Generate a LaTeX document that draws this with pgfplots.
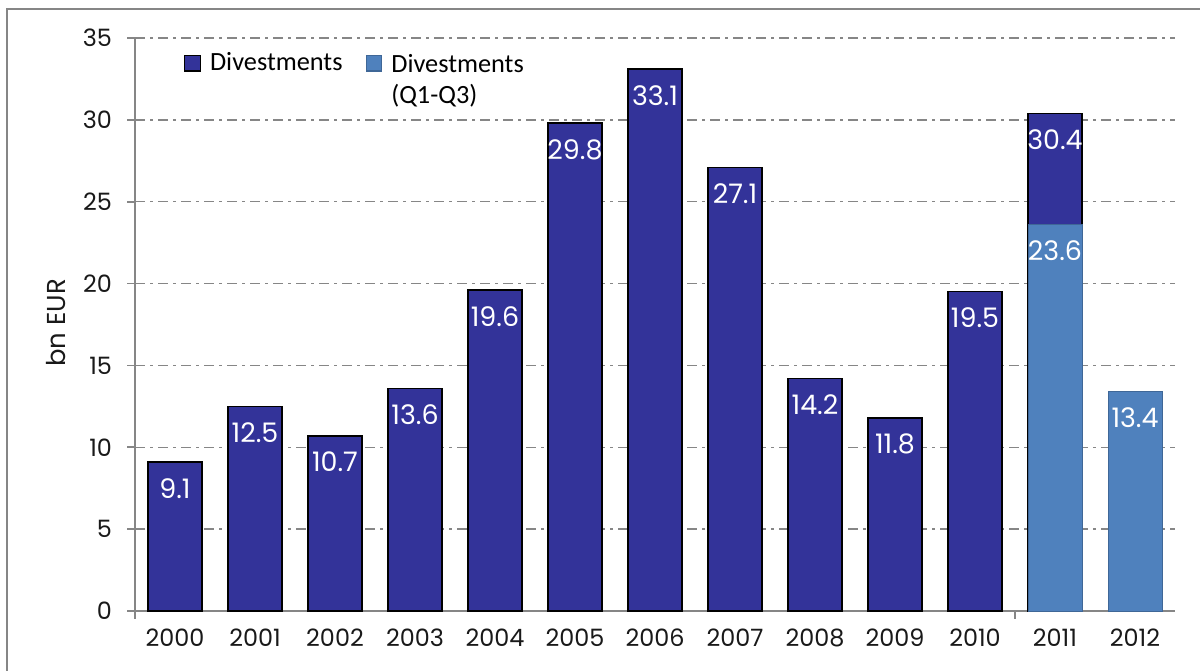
\documentclass[border=0pt]{standalone}
\usepackage{pgfplots}
\pgfplotsset{compat=1.18}
\usepackage{fontspec}
\setmainfont{Poppins}
\newfontfamily\calfont{Carlito}
\definecolor{darkbar}{RGB}{51,51,153}
\definecolor{lightbar}{RGB}{79,129,189}
\definecolor{gridc}{RGB}{134,134,134}
\begin{document}
\begin{tikzpicture}
\useasboundingbox (0bp,0bp) rectangle (600bp,335.5bp);
\draw[gridc, line width=0.9bp] (3.5bp,-20bp) -- (3.5bp,331bp) -- (620bp,331bp);
\begin{axis}[
  at={(67.5bp,30bp)}, anchor=south west,
  scale only axis, width=520bp, height=286.5bp,
  xmin=-0.5, xmax=12.5, ymin=0, ymax=35,
  axis x line*=bottom, axis y line*=left,
  axis line style={gridc, line width=0.9bp},
  xtick={0,...,12},
  xticklabels={2000,2001,2002,2003,2004,2005,2006,2007,2008,2009,2010,2011,2012},
  ytick={0,5,...,35},
  xtick style={draw=none},
  ytick style={gridc, line width=0.9bp},
  tick align=outside, major tick length=4bp,
  ymajorgrids,
  grid style={gridc, line width=0.7bp, dash pattern=on 5bp off 2.5bp on 1.5bp off 2.5bp},
  /pgf/number format/assume math mode=true,
  ticklabel style={font=\fontsize{12}{14}\selectfont, text=black!90},
  yticklabel style={xshift=-4bp},
  xticklabel style={yshift=-1.5bp},
  clip=false,
  ybar, bar width=27bp, bar shift=0pt,
  nodes near coords={\pgfmathprintnumber[fixed,fixed zerofill,precision=1]{\pgfplotspointmeta}},
  nodes near coords style={white, anchor=north, yshift=-4.5bp, font=\fontsize{13.5}{15}\selectfont},
  legend columns=2,
  legend style={at={(axis description cs:0.047,0.985)}, anchor=north west, draw=none, fill=none,
    font=\calfont\fontsize{13.2}{15.5}\selectfont, inner sep=0pt,
    /tikz/every even column/.append style={column sep=9.5bp},
    /tikz/every odd column/.append style={column sep=2.5bp},
    cells={anchor=west}},
  legend image code/.code={\draw[#1, line width=0.6bp] (0bp,-3.9bp) rectangle (7.8bp,3.9bp);},
]
\addplot[fill=darkbar, draw=black, line width=0.7bp] coordinates {
  (0,9.1) (1,12.5) (2,10.7) (3,13.6) (4,19.6) (5,29.8) (6,33.1)
  (7,27.1) (8,14.2) (9,11.8) (10,19.5) (11,30.4)};
\addlegendentry{Divestments}
\addplot[fill=lightbar, draw=lightbar!80!black, line width=0.3bp] coordinates {
  (11,23.6) (12,13.4)};
\addlegendentry{\begin{tabular}[t]{@{}l@{}}Divestments\\(Q1-Q3)\end{tabular}}
\coordinate (ta) at (axis cs:10.5,0);
\coordinate (tb) at (axis cs:-0.5,0);
\end{axis}
\draw[gridc, line width=0.9bp] (ta) -- ++(0bp,-4bp);
\draw[gridc, line width=0.9bp] (tb) -- ++(0bp,-4bp);
\node[rotate=90, font=\fontsize{13}{15}\selectfont, text=black!90] at (28bp,174bp) {bn EUR};
\end{tikzpicture}
\end{document}
